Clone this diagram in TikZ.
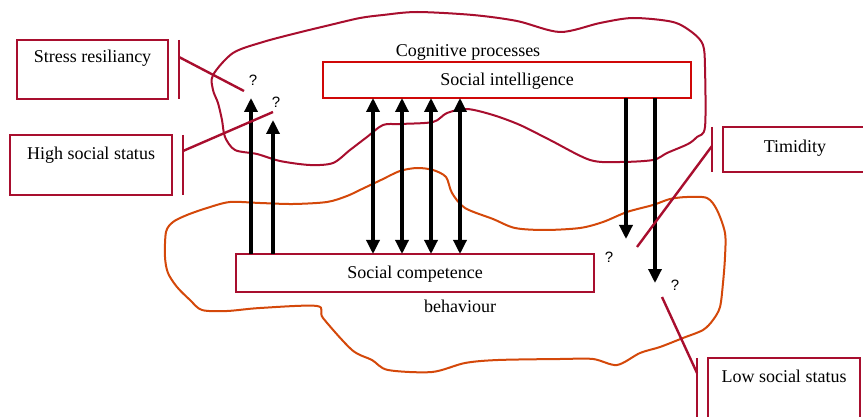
\documentclass[tikz,border=0pt]{standalone}
\usepackage{fontspec}
\setmainfont{Liberation Serif}
\setsansfont{Liberation Sans}
\usepackage{tikz}
\usetikzlibrary{arrows.meta}
\definecolor{boxred}{RGB}{168,14,46}
\definecolor{brightred}{RGB}{208,8,8}
\definecolor{cloudorange}{RGB}{212,72,10}
\tikzset{
  tbox/.style={draw=boxred, line width=2.7pt, inner sep=0pt, outer sep=0pt, anchor=north west, font=\fontsize{18}{20}\selectfont},
  link/.style={draw=boxred, line width=2.4pt},
  qmark/.style={font=\sffamily\fontsize{15}{15}\selectfont, inner sep=0pt},
  lbl/.style={font=\fontsize{18}{20}\selectfont, inner sep=0pt, anchor=base},
  sarrow/.style={line width=3.3pt, -{Triangle[length=14pt,width=13pt]}},
  darrow/.style={line width=3.3pt, {Triangle[length=14pt,width=13pt]}-{Triangle[length=14pt,width=13pt]}},
  cloud/.style={line width=2pt, line join=round}
}

\begin{document}
\begin{tikzpicture}[x=1pt, y=-1pt]
    \useasboundingbox (0,0) rectangle (863,417);

    \draw[cloud, draw=boxred] plot[smooth cycle] coordinates {
        (213,75) (233,53) (263,42) (297,33) (330,25) (360,18) (383,15) (417,12)
        (473,15) (517,21) (560,32) (600,23) (633,18) (673,22) (693,33) (703,45)
        (705,67) (705,127) (697,137) (688,144) (667,153) (653,160) (620,162)
        (590,160) (550,140) (520,125) (493,115) (467,109) (447,113) (433,122)
        (400,124) (383,125) (367,137) (350,150) (333,163) (310,165) (280,161)
        (257,154) (235,150) (225,137) (222,120) (218,103) (213,90)};
    \draw[cloud, draw=cloudorange] plot[smooth cycle] coordinates {
        (166,232) (173,222) (187,215) (207,208) (230,202) (260,203) (293,204)
        (327,202) (347,196) (362,189) (381,180) (400,171) (417,168) (433,170)
        (446,177) (452,193) (465,208) (493,219) (515,228) (545,230) (580,228)
        (603,222) (627,212) (653,205) (670,199) (687,197) (707,198) (717,210)
        (725,233) (725,257) (723,283) (720,307) (713,320) (703,330) (683,338)
        (660,347) (640,353) (617,365) (593,359) (560,359) (498,360) (465,363)
        (432,372) (388,370) (372,360) (352,350) (323,318) (317,306) (260,308)
        (227,311) (202,310) (190,300) (177,287) (168,273) (165,257)};

    \node[tbox, draw=brightred, minimum width=368pt, text height=24pt, text depth=12pt] (SI) at (323,62) {Social intelligence};
    \node[tbox, minimum width=358pt, text height=25pt, text depth=13pt] (SC) at (236,254) {Social competence};
    \node[tbox, minimum width=151pt, text height=23pt, text depth=36pt] (SR) at (17,40) {Stress resiliancy};
    \node[tbox, minimum width=162pt, text height=25pt, text depth=35pt] (HS) at (10,135) {High social status};
    \node[tbox, minimum width=144pt, text height=26pt, text depth=19pt] (T) at (723,127) {Timidity};
    \node[tbox, minimum width=152pt, text height=24pt, text depth=40pt] (LS) at (708,358) {Low social status};

    \node[lbl] (CP) at (468,57) {Cognitive processes};
    \node[lbl] (BH) at (460,312) {behaviour};

    \node[qmark] (Q1) at (253,80) {?};
    \node[qmark] (Q2) at (276,102) {?};
    \node[qmark] (Q3) at (609,257) {?};
    \node[qmark] (Q4) at (675,285) {?};

    \coordinate (u1) at (251,98);
    \coordinate (u2) at (273,120);
    \coordinate (d1) at (626,239);
    \coordinate (d2) at (655,283);
    \coordinate (srend) at (244,91);
    \coordinate (hsend) at (273,112);
    \coordinate (tend) at (637,247);
    \coordinate (lsend) at (662,297);

    \draw[sarrow] (SC.north -| u1) -- (u1);
    \draw[sarrow] (SC.north -| u2) -- (u2);
    \foreach \x in {373,402,431,460}
        \draw[darrow] (\x,0 |- SC.north) -- (\x,0 |- SI.south);
    \draw[sarrow] (SI.south -| d1) -- (d1);
    \draw[sarrow] (SI.south -| d2) -- (d2);

    \draw[link] ([xshift=11pt]SR.north east) -- ([xshift=11pt]SR.south east);
    \draw[link] ([xshift=11pt,yshift=-17pt]SR.north east) -- (srend);
    \draw[link] ([xshift=11pt]HS.north east) -- ([xshift=11pt]HS.south east);
    \draw[link] ([xshift=11pt,yshift=-16pt]HS.north east) -- (hsend);
    \draw[link] ([xshift=-11pt]T.north west) -- ([xshift=-11pt]T.south west);
    \draw[link] ([xshift=-11pt,yshift=-19pt]T.north west) -- (tend);
    \draw[link] ([xshift=-11pt]LS.north west) -- ([xshift=-11pt]LS.south west);
    \draw[link] ([xshift=-11pt,yshift=-15pt]LS.north west) -- (lsend);

\end{tikzpicture}
\end{document}
